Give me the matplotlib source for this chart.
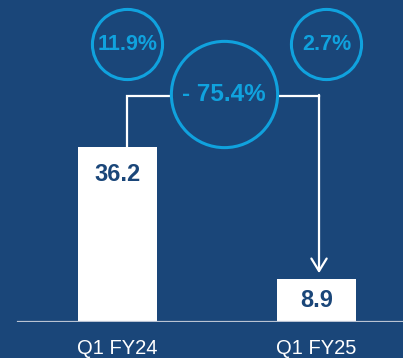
import matplotlib
matplotlib.use("Agg")
import matplotlib.pyplot as plt

# data
categories = ["Q1 FY24", "Q1 FY25"]
values = [36.2, 8.9]
margins = ["11.9%", "2.7%"]
change = "- 75.4%"

BG = "#1a4679"
CYAN = "#10a2de"
BASE = "#b9c3d3"
FONT = ["Liberation Sans", "DejaVu Sans"]

fig = plt.figure(figsize=(4.03, 3.58), dpi=100, facecolor=BG)
ax = fig.add_axes([0, 36 / 358, 1, 322 / 358])
ax.set_facecolor(BG)
ax.set_xlim(-0.59, 1.435)
ax.set_ylim(0, 66.6)
for s in ax.spines.values():
    s.set_visible(False)
ax.set_yticks([])

xs = list(range(len(categories)))
ax.bar(xs, values, width=0.397, color="white", zorder=3)
ax.axhline(0, xmin=18 / 403, xmax=1, color=BASE, lw=1.6, zorder=4)

ax.set_xticks(xs)
ax.set_xticklabels(categories, color="white", fontsize=14.5, family=FONT)
ax.tick_params(axis="x", length=0, pad=12)

# value labels inside the bars
for x, v in zip(xs, values):
    ax.text(x, v - min(5.6, v / 2), f"{v:.1f}", ha="center", va="center", color=BG,
            fontsize=17, fontweight="bold", family=FONT, zorder=5)

# margin circles
for x, m in zip(xs, margins):
    cx = x + 0.05
    ax.plot(cx, 57.5, "o", ms=50.5, mfc="none", mec=CYAN, mew=2.2, zorder=5)
    ax.text(cx, 57.3, m, ha="center", va="center", color=CYAN, fontsize=15.5,
            fontweight="bold", family=FONT, zorder=6)

# connector with change circle
y_conn = 46.8
x_a = xs[0] + 0.048
x_b = xs[1] + 0.013
ax.plot([x_a, x_a, x_b], [values[0], y_conn, y_conn], color="white", lw=1.6,
        zorder=2, solid_joinstyle="miter")
ax.annotate("", xy=(x_b, values[1] + 1.2), xytext=(x_b, y_conn + 0.17),
            arrowprops=dict(arrowstyle="->,head_length=0.9,head_width=0.55",
                            color="white", lw=1.6, shrinkA=0, shrinkB=0), zorder=2)
cx = 0.535
ax.plot(cx, 47.2, "o", ms=76.5, mfc=BG, mec=CYAN, mew=2.2, zorder=5)
ax.text(cx, 47.0, change, ha="center", va="center", color=CYAN, fontsize=17.5,
        fontweight="bold", family=FONT, zorder=6)

fig.savefig("out.png", dpi=100, facecolor=BG)
